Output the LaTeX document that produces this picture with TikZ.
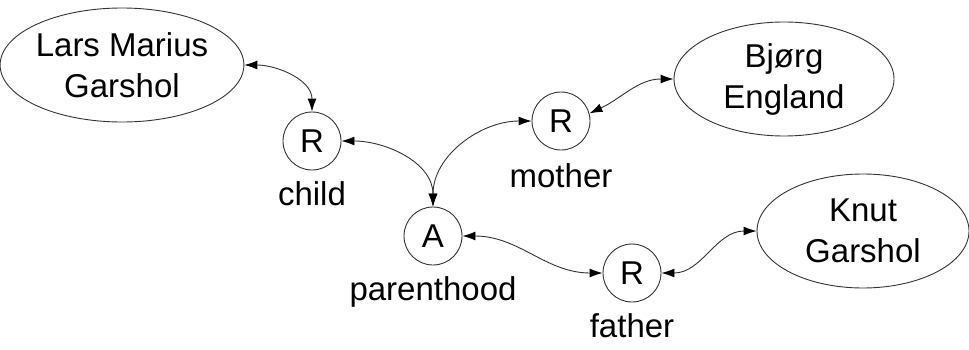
\documentclass[tikz,border=0pt]{standalone}
\usepackage{fontspec}
\setmainfont{Liberation Sans}
\usepackage{tikz}
\usetikzlibrary{arrows.meta,positioning,shapes.geometric}
\usepackage{xcolor}
\definecolor{EdgeGray}{HTML}{333333}

\begin{document}
\begin{tikzpicture}[x=1pt,y=1pt,
  topic/.style={ellipse,draw=EdgeGray,line width=0.9pt,inner sep=0pt,minimum width=220pt,minimum height=114pt,align=center,font=\fontsize{33}{41}\selectfont},
  role/.style={circle,draw=EdgeGray,line width=0.9pt,inner sep=0pt,minimum size=58pt,font=\fontsize{33}{41}\selectfont},
  lbl/.style={inner sep=0pt,font=\fontsize{33}{41}\selectfont},
  assoc/.style={{Latex[length=13pt,width=9pt,color=black]}-{Latex[length=13pt,width=9pt,color=black]},draw=EdgeGray,line width=0.9pt}]
\useasboundingbox (0,0) rectangle (969,349);
\node[topic] (lars) at (122,284) {Lars Marius\\Garshol};
\node[topic] (bjorg) at (784,270) {Bjørg\\England};
\node[topic,minimum width=212pt] (knut) at (863,118) {Knut\\Garshol};
\node[role,label={[lbl,label distance=11pt]below:child}] (child) at (312,208) {R};
\node[role,label={[lbl,label distance=13pt]below:mother}] (mother) at (561,228) {R};
\node[role,label={[lbl,label distance=11pt]below:parenthood}] (parent) at (433,113) {A};
\node[role,label={[lbl,label distance=11pt]below:father}] (father) at (632,76) {R};
% role players
\draw[assoc] (lars.east) to[out=0,in=90] (child.north);
\draw[assoc] (mother.15) to[out=25,in=180] (bjorg.west);
\draw[assoc] (father.east) to[out=0,in=180] (knut.west);
% association roles
\draw[assoc] (child.east) to[out=0,in=90] (parent.north);
\draw[assoc] (parent.north) to[out=90,in=180] (mother.west);
\draw[assoc] (parent.east) to[out=0,in=180] (father.west);
\end{tikzpicture}
\end{document}
